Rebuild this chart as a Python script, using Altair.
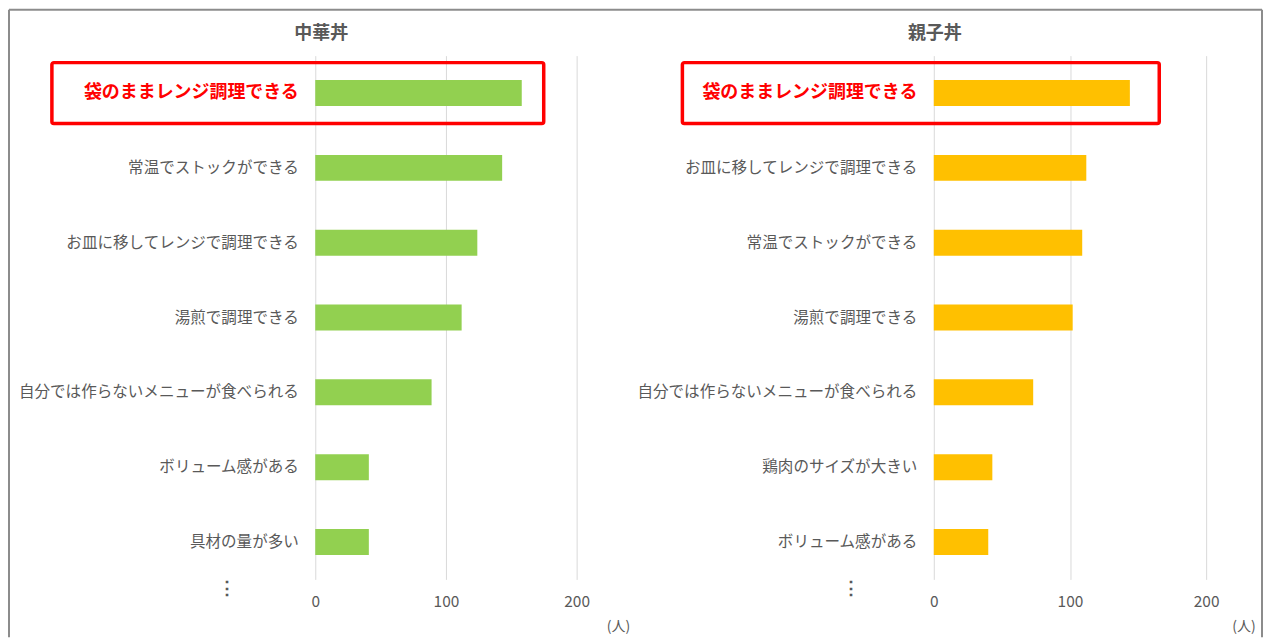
import altair as alt
import pandas as pd

FONT = "Noto Sans CJK JP"
GRAY = "#595959"
HIGHLIGHT = "袋のままレンジ調理できる"

left_title = "中華丼"
left_items = ["袋のままレンジ調理できる", "常温でストックができる", "お皿に移してレンジで調理できる",
              "湯煎で調理できる", "自分では作らないメニューが食べられる", "ボリューム感がある", "具材の量が多い"]
left_values = [158, 143, 124, 112, 89, 41, 41]

right_title = "親子丼"
right_items = ["袋のままレンジ調理できる", "お皿に移してレンジで調理できる", "常温でストックができる",
               "湯煎で調理できる", "自分では作らないメニューが食べられる", "鶏肉のサイズが大きい", "ボリューム感がある"]
right_values = [144, 112, 109, 102, 73, 43, 40]

x_ticks = [0, 100, 200]
unit_label = "(人)"
ellipsis = "⋮"


def panel(title, items, values, color, width, box_x, box_x2, title_x, ell_x, unit_x, frame=False):
    df = pd.DataFrame({"item": items, "value": values})
    is_hl = f"datum.value == '{HIGHLIGHT}'"
    yenc = alt.Y("item:N", sort=items, title=None,
                 scale=alt.Scale(paddingInner=0, paddingOuter=0),
                 axis=alt.Axis(domain=False, ticks=False, grid=False, labelPadding=17,
                               labelLimit=500, labelFont=FONT,
                               labelFontSize={"expr": f"{is_hl} ? 18 : 15.6"},
                               labelColor={"expr": f"{is_hl} ? '#ff0000' : '{GRAY}'"},
                               labelFontWeight={"expr": f"{is_hl} ? 'bold' : 'normal'"}))
    xenc = alt.X("value:Q", title=None, scale=alt.Scale(domain=[0, 200], nice=False),
                 axis=alt.Axis(values=x_ticks, domain=False, ticks=False, grid=True,
                               gridColor="#d9d9d9", gridWidth=1, labelPadding=15, labelFlush=False,
                               labelFontSize=15.5, labelFont=FONT, labelColor=GRAY))
    bars = alt.Chart(df).mark_bar(size=26, color=color).encode(y=yenc, x=xenc)

    box_df = pd.DataFrame({"item": [HIGHLIGHT]})
    box = alt.Chart(box_df).mark_bar(size=61, filled=False, stroke="#ff0000", strokeWidth=3.5,
                                     cornerRadius=2).encode(
        y=alt.Y("item:N", sort=items), x=alt.value(box_x), x2=alt.value(box_x2))

    t_df = pd.DataFrame({"t": [title]})
    ttl = alt.Chart(t_df).mark_text(font=FONT, fontSize=18, fontWeight="bold", color=GRAY,
                                    align="center", baseline="middle").encode(
        text="t:N", x=alt.value(title_x), y=alt.value(-22))

    e_df = pd.DataFrame({"t": [ellipsis]})
    ell = alt.Chart(e_df).mark_text(font=FONT, fontSize=18, fontWeight="bold", color=GRAY,
                                    align="center", baseline="middle").encode(
        text="t:N", x=alt.value(ell_x), y=alt.value(535))

    u_df = pd.DataFrame({"t": [unit_label]})
    unit = alt.Chart(u_df).mark_text(font=FONT, fontSize=14, color=GRAY,
                                     align="center", baseline="middle").encode(
        text="t:N", x=alt.value(unit_x), y=alt.value(573))

    layers = [bars, box, ttl, ell, unit]
    if frame:
        fr = pd.DataFrame({"k": [0]})
        fc = "#8c8c8c"
        top = alt.Chart(fr).mark_rule(color=fc, strokeWidth=2).encode(
            x=alt.value(-307), x2=alt.value(949), y=alt.value(-46))
        lft = alt.Chart(fr).mark_rule(color=fc, strokeWidth=2).encode(
            x=alt.value(-307), y=alt.value(-46), y2=alt.value(583))
        rgt = alt.Chart(fr).mark_rule(color=fc, strokeWidth=2).encode(
            x=alt.value(949), y=alt.value(-46), y2=alt.value(583))
        layers += [top, lft, rgt]
    return alt.layer(*layers).properties(width=width, height=525)


left = panel(left_title, left_items, left_values, "#92d050", 262, -264, 229, 6, -88, 304, frame=True)
right = panel(right_title, right_items, right_values, "#ffc000", 273, -252, 226, 1, -83, 311)

chart = alt.hconcat(left, right, spacing=358, bounds="flush").properties(
    padding=0, background="white"
).configure_view(stroke=None)

chart.save("out.html", embed_options={"renderer": "svg", "actions": False})
